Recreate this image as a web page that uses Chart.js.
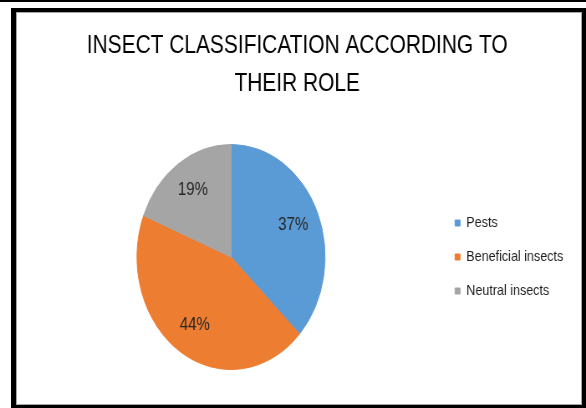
<!DOCTYPE html>
<html>
<head>
<meta charset="utf-8">
<script src="https://cdn.jsdelivr.net/npm/chart.js@4/dist/chart.umd.min.js"></script>
<style>
  html, body { margin: 0; padding: 0; width: 586px; height: 408px; overflow: hidden; background: #fff; }
  #topRule { position: absolute; left: 0; top: 0; width: 586px; height: 2px; background: #000; }
  #frame { position: absolute; left: 11px; top: 8px; width: 575px; height: 400px; box-sizing: border-box;
           border-style: solid; border-color: #000; border-width: 4px 4px 3px 5px; }
  #frameInner { position: absolute; left: 0; top: 0; right: 0; bottom: 0; border: 1px solid #a6a6a6; }
  #wrap { position: absolute; left: 0; top: 0; transform-origin: 0 0; transform: scaleX(0.836); }
  canvas { display: block; }
</style>
</head>
<body>
<div id="topRule"></div>
<div id="frame"><div id="frameInner"></div></div>
<div id="wrap"><canvas id="chart" width="701" height="408"></canvas></div>
<script>
// Insect groups and their share of all recorded insects (%)
const categories = ['Pests', 'Beneficial insects', 'Neutral insects'];
const shares = [37, 44, 19];
const titleLines = ['INSECT CLASSIFICATION ACCORDING TO', 'THEIR ROLE'];

const sliceColors = ['#5B9BD5', '#ED7D31', '#A5A5A5'];

// Percentage labels placed inside each slice
const sliceLabels = {
  id: 'sliceLabels',
  afterDatasetsDraw(chart) {
    const ctx = chart.ctx;
    const meta = chart.getDatasetMeta(0);
    ctx.save();
    ctx.font = '18px "Liberation Sans", Arial, sans-serif';
    ctx.fillStyle = '#262626';
    ctx.textAlign = 'center';
    ctx.textBaseline = 'middle';
    meta.data.forEach((arc, i) => {
      const p = arc.getProps(['x', 'y', 'startAngle', 'endAngle', 'outerRadius'], true);
      const mid = (p.startAngle + p.endAngle) / 2;
      const r = p.outerRadius * 0.72;
      ctx.fillText(shares[i] + '%', p.x + Math.cos(mid) * r, p.y + Math.sin(mid) * r);
    });
    ctx.restore();
  }
};

new Chart(document.getElementById('chart'), {
  type: 'pie',
  data: {
    labels: categories,
    datasets: [{
      data: shares,
      backgroundColor: sliceColors,
      borderColor: sliceColors,
      borderWidth: 1,
      radius: 112.5
    }]
  },
  options: {
    responsive: false,
    animation: false,
    devicePixelRatio: 1,
    layout: { padding: { left: 27.3, right: 17.3, top: 0, bottom: 4 } },
    plugins: {
      title: {
        display: true,
        text: titleLines,
        color: '#000',
        font: { family: '"Liberation Sans", Arial, sans-serif', size: 25, weight: 'normal', lineHeight: 1.54 },
        padding: { top: 26.75, bottom: 6.25 }
      },
      legend: {
        position: 'right',
        align: 'center',
        fullSize: false,
        labels: {
          boxWidth: 6,
          boxHeight: 6,
          padding: 19,
          color: '#1e1e1e',
          font: { family: '"Liberation Sans", Arial, sans-serif', size: 15 }
        }
      },
      tooltip: { enabled: false }
    }
  },
  plugins: [sliceLabels]
});
</script>
</body>
</html>
